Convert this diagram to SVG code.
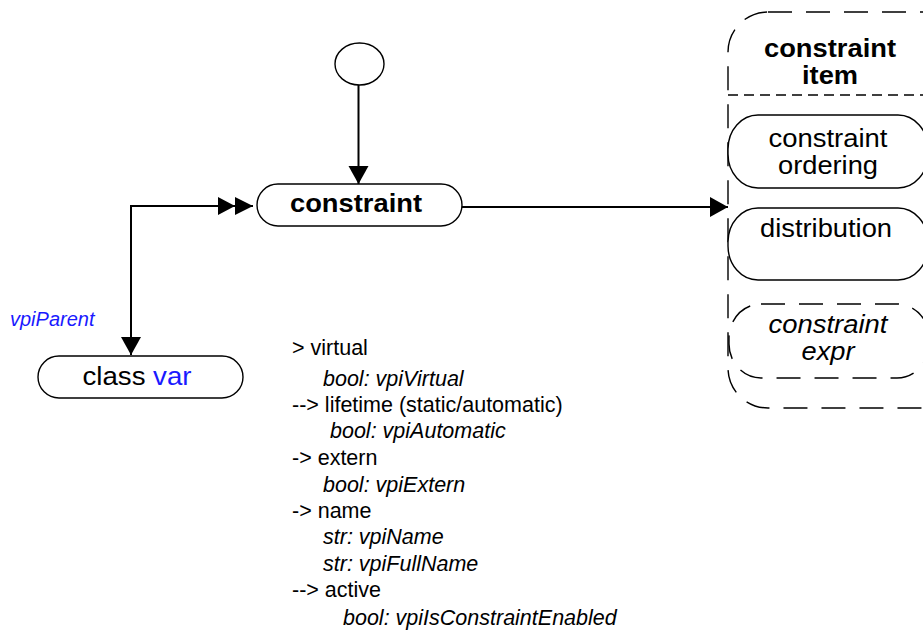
<svg xmlns="http://www.w3.org/2000/svg" width="923" height="634" viewBox="0 0 923 634">
<style>
  text { font-family: "Liberation Sans", Arial, sans-serif; fill: #000; }
  .lbl { font-size: 25px; text-anchor: middle; }
  .b { font-weight: bold; }
  .i { font-style: italic; }
  .blue { fill: #1a1aff; }
  .list { font-size: 21.5px; }
  .node { fill: #fff; stroke: #000; stroke-width: 1.4; }
  .dash { fill: none; stroke: #000; stroke-width: 1.4; stroke-dasharray: 24 14; }
  .conn { fill: none; stroke: #000; stroke-width: 2; }
</style>
<defs>
  <marker id="arr" markerUnits="userSpaceOnUse" markerWidth="20" markerHeight="20" refX="18" refY="10" orient="auto" overflow="visible">
    <path d="M0,0 L18,10 L0,20 Z" fill="#000"/>
  </marker>
  <marker id="arr2" markerUnits="userSpaceOnUse" markerWidth="36" markerHeight="20" refX="35" refY="9" orient="auto" overflow="visible">
    <path d="M0,0 L17,9 L0,18 Z M17,0 L35,9 L17,18 Z" fill="#000"/>
  </marker>
</defs>

<g id="connectors">
  <line class="conn" x1="358.5" y1="85" x2="358.5" y2="184" marker-end="url(#arr)"/>
  <polyline class="conn" points="131,355 131,206 253,206" marker-end="url(#arr2)"/>
  <line class="conn" x1="131" y1="300" x2="131" y2="355" marker-end="url(#arr)"/>
  <line class="conn" x1="462" y1="207" x2="728" y2="207" marker-end="url(#arr)"/>
  <text x="10" y="326" class="i blue" style="font-size:20px">vpiParent</text>
</g>

<g id="start">
  <ellipse class="node" cx="359.5" cy="64" rx="24.5" ry="21"/>
</g>

<g id="constraint">
  <rect class="node" x="257" y="184" width="205" height="42" rx="21"/>
  <text class="lbl b" x="356" y="212" textLength="132" lengthAdjust="spacingAndGlyphs">constraint</text>
</g>

<g id="classvar">
  <rect class="node" x="38" y="356" width="205" height="42" rx="21"/>
  <text class="lbl" x="137" y="385" textLength="109" lengthAdjust="spacingAndGlyphs">class <tspan class="blue">var</tspan></text>
</g>

<g id="constraint_item">
  <rect class="dash" x="728" y="12" width="240" height="396" rx="40"/>
  <line x1="728" y1="95" x2="923" y2="95" stroke="#000" stroke-width="1.4" stroke-dasharray="10 6"/>
  <text class="lbl b" x="830" y="57" textLength="132" lengthAdjust="spacingAndGlyphs">constraint</text>
  <text class="lbl b" x="830" y="84" textLength="56" lengthAdjust="spacingAndGlyphs">item</text>
</g>

<g id="constraint_ordering">
  <rect class="node" x="728" y="115" width="200" height="73" rx="30" ry="34"/>
  <text class="lbl" x="828" y="147" textLength="119" lengthAdjust="spacingAndGlyphs">constraint</text>
  <text class="lbl" x="828" y="174" textLength="100" lengthAdjust="spacingAndGlyphs">ordering</text>
</g>

<g id="distribution">
  <rect class="node" x="728" y="208" width="200" height="72" rx="30" ry="34"/>
  <text class="lbl" x="826" y="237" textLength="132" lengthAdjust="spacingAndGlyphs">distribution</text>
</g>

<g id="constraint_expr">
  <rect class="dash" x="729" y="304" width="200" height="74" rx="32" ry="34"/>
  <text class="lbl i" x="828" y="333" textLength="119" lengthAdjust="spacingAndGlyphs">constraint</text>
  <text class="lbl i" x="828" y="360" textLength="53" lengthAdjust="spacingAndGlyphs">expr</text>
</g>

<g id="properties" class="list">
  <text class="list" x="292" y="355">&gt; virtual</text>
  <text class="list i" x="323" y="386">bool: vpiVirtual</text>
  <text class="list" x="292" y="412">--&gt; lifetime (static/automatic)</text>
  <text class="list i" x="330" y="438">bool: vpiAutomatic</text>
  <text class="list" x="292" y="465">-&gt; extern</text>
  <text class="list i" x="323" y="492">bool: vpiExtern</text>
  <text class="list" x="292" y="518">-&gt; name</text>
  <text class="list i" x="323" y="544">str: vpiName</text>
  <text class="list i" x="323" y="571">str: vpiFullName</text>
  <text class="list" x="292" y="597">--&gt; active</text>
  <text class="list i" x="343" y="625">bool: vpiIsConstraintEnabled</text>
</g>
</svg>
